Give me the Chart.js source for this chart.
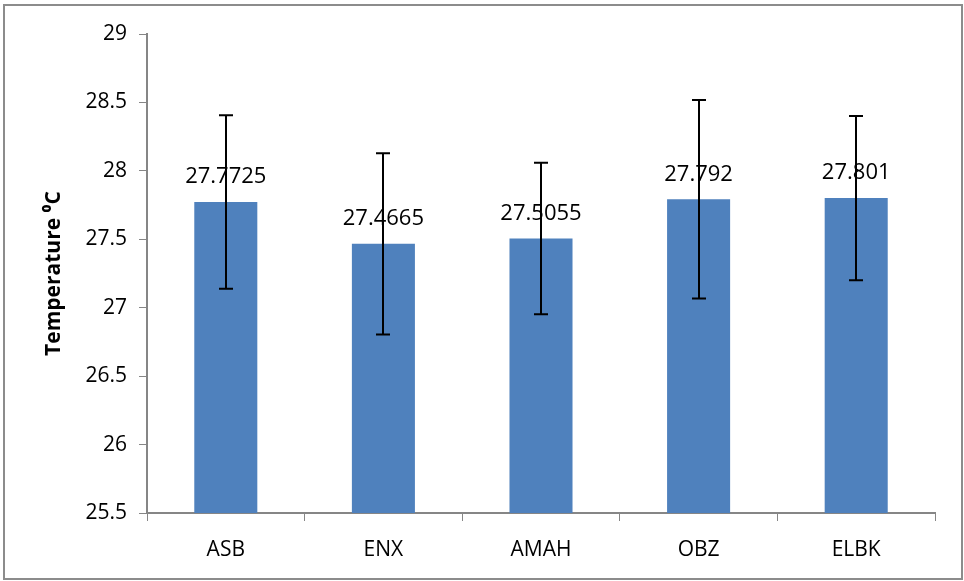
<!DOCTYPE html>
<html>
<head>
<meta charset="utf-8">
<script src="https://cdn.jsdelivr.net/npm/chart.js@4.4.0/dist/chart.umd.min.js"></script>
<style>
  html, body { margin: 0; padding: 0; background: #fff; }
  #wrap { width: 964px; height: 581px; }
</style>
</head>
<body>
<div id="wrap"><canvas id="tempChart" width="964" height="581"></canvas></div>
<script>
// Data
const sites = ['ASB', 'ENX', 'AMAH', 'OBZ', 'ELBK'];
const meanTemp = [27.7725, 27.4665, 27.5055, 27.792, 27.801];
const labelText = ['27.7725', '27.4665', '27.5055', '27.792', '27.801'];
const errTemp = [0.634, 0.663, 0.554, 0.725, 0.60]; // +/- whiskers
const yTicks = [25.5, 26, 26.5, 27, 27.5, 28, 28.5, 29];

const axisGrey = '#868686';
const barBlue = '#4f81bd';
const fontName = "'Open Sans', 'Noto Sans', sans-serif";

// Outer frame round the whole picture
const framePlugin = {
    id: 'frame',
    beforeDraw(chart) {
        const ctx = chart.ctx;
        ctx.save();
        ctx.strokeStyle = '#8c8c8c';
        ctx.lineWidth = 2;
        ctx.strokeRect(4, 5, 958, 574);
        ctx.restore();
    }
};

// Error bars with caps
const errorBarPlugin = {
    id: 'errorBars',
    afterDatasetsDraw(chart) {
        const ctx = chart.ctx;
        const y = chart.scales.y;
        const meta = chart.getDatasetMeta(0);
        ctx.save();
        ctx.strokeStyle = '#000';
        ctx.lineWidth = 2;
        meta.data.forEach((bar, i) => {
            const x = Math.round(bar.x);
            const top = y.getPixelForValue(meanTemp[i] + errTemp[i]);
            const bot = y.getPixelForValue(meanTemp[i] - errTemp[i]);
            ctx.beginPath();
            ctx.moveTo(x, top);
            ctx.lineTo(x, bot);
            ctx.moveTo(x - 7, top);
            ctx.lineTo(x + 7, top);
            ctx.moveTo(x - 7, bot);
            ctx.lineTo(x + 7, bot);
            ctx.stroke();
        });
        ctx.restore();
    }
};

// Value labels above the bars
const valueLabelPlugin = {
    id: 'valueLabels',
    afterDatasetsDraw(chart) {
        const ctx = chart.ctx;
        const meta = chart.getDatasetMeta(0);
        ctx.save();
        ctx.fillStyle = '#000';
        ctx.font = '22px ' + fontName;
        ctx.textAlign = 'center';
        ctx.textBaseline = 'bottom';
        meta.data.forEach((bar, i) => {
            ctx.fillText(labelText[i], bar.x, bar.y - 14);
        });
        ctx.restore();
    }
};

new Chart(document.getElementById('tempChart'), {
    type: 'bar',
    data: {
        labels: sites,
        datasets: [{
            data: meanTemp,
            backgroundColor: barBlue,
            borderWidth: 0,
            categoryPercentage: 1.0,
            barPercentage: 0.4
        }]
    },
    options: {
        responsive: false,
        animation: false,
        layout: { padding: { left: 0, right: 29, top: 34, bottom: 0 } },
        plugins: {
            legend: { display: false },
            tooltip: { enabled: false }
        },
        scales: {
            x: {
                grid: {
                    display: true,
                    drawOnChartArea: false,
                    drawTicks: true,
                    tickLength: 8,
                    color: axisGrey,
                    offset: true
                },
                border: { color: axisGrey, width: 2 },
                ticks: {
                    color: '#000',
                    font: { family: fontName, size: 21 },
                    padding: 16
                },
                afterFit(scale) { scale.height = 68; }
            },
            y: {
                min: 25.5,
                max: 29,
                afterBuildTicks(scale) {
                    scale.ticks = yTicks.map(v => ({ value: v }));
                },
                grid: {
                    display: true,
                    drawOnChartArea: false,
                    drawTicks: true,
                    tickLength: 8,
                    color: axisGrey
                },
                border: { color: axisGrey, width: 2 },
                ticks: {
                    color: '#000',
                    font: { family: fontName, size: 21 },
                    padding: 12,
                    callback: v => String(v)
                },
                title: {
                    display: true,
                    text: 'Temperature \u2070C',
                    color: '#000',
                    font: { family: fontName, size: 21, weight: 'bold' },
                    padding: { top: 41, bottom: 0 }
                },
                afterFit(scale) { scale.width = 147; }
            }
        }
    },
    plugins: [framePlugin, errorBarPlugin, valueLabelPlugin]
});
</script>
</body>
</html>
